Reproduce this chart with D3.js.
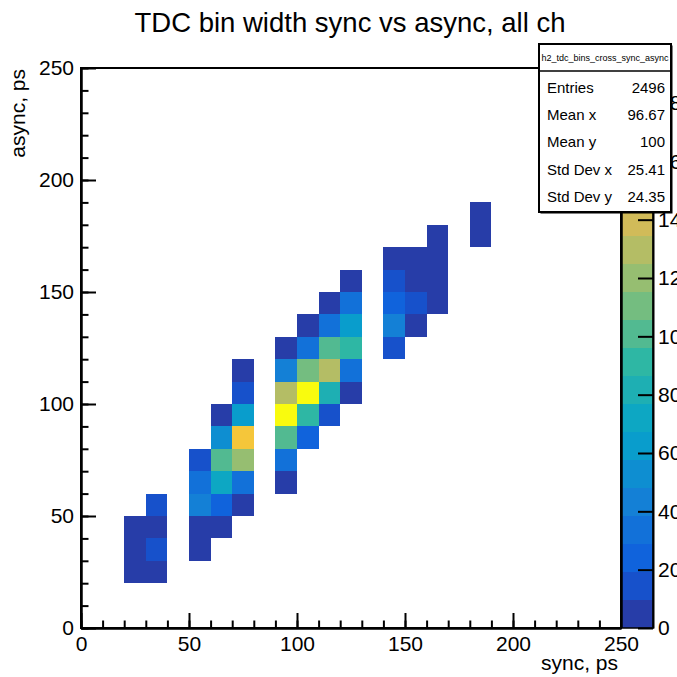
<!DOCTYPE html>
<html>
<head>
<meta charset="utf-8">
<script src="https://cdn.jsdelivr.net/npm/d3@7"></script>
<style>
  body { margin: 0; background: #fff; }
  svg { display: block; font-family: "Liberation Sans", Arial, Helvetica, sans-serif; }
</style>
</head>
<body>
<svg id="chart" width="677" height="677"></svg>
<script>
// 10 ps bins: lower edge of the sync bin, lower edge of the async bin, entries
const syncBins = [
  20, 20, 20,
  30, 30, 30, 30,
  50, 50, 50, 50, 50,
  60, 60, 60, 60, 60, 60,
  70, 70, 70, 70, 70, 70, 70,
  90, 90, 90, 90, 90, 90, 90,
  100, 100, 100, 100, 100, 100,
  110, 110, 110, 110, 110, 110,
  120, 120, 120, 120, 120, 120,
  140, 140, 140, 140, 140,
  150, 150, 150, 150,
  160, 160, 160, 160,
  180, 180
];
const asyncBins = [
  20, 30, 40,
  20, 30, 40, 50,
  30, 40, 50, 60, 70,
  40, 50, 60, 70, 80, 90,
  50, 60, 70, 80, 90, 100, 110,
  60, 70, 80, 90, 100, 110, 120,
  80, 90, 100, 110, 120, 130,
  90, 100, 110, 120, 130, 140,
  100, 110, 120, 130, 140, 150,
  120, 130, 140, 150, 160,
  130, 140, 150, 160,
  140, 150, 160, 170,
  170, 180
];
const counts = [
  6, 5, 4,
  7, 12, 8, 14,
  3, 7, 44, 35, 15,
  6, 24, 72, 98, 53, 5,
  9, 33, 122, 156, 62, 13, 4,
  5, 35, 97, 188, 127, 42, 7,
  22, 90, 192, 106, 31, 6,
  12, 78, 130, 98, 30, 4,
  8, 32, 88, 61, 34, 3,
  14, 42, 23, 12, 6,
  5, 13, 8, 7,
  6, 4, 5, 3,
  2, 3
];

const xTicks = [0, 50, 100, 150, 200, 250];
const yTicks = [0, 50, 100, 150, 200, 250];
const statLabels = ["Entries", "Mean x", "Mean y", "Std Dev x", "Std Dev y"];
const statValues = ["2496", "96.67", "100", "25.41", "24.35"];

// ROOT kBird palette
const birdStops = [0, 0.125, 0.25, 0.375, 0.5, 0.625, 0.75, 0.875, 1];
const birdR = [0.2082, 0.0592, 0.0780, 0.0232, 0.1802, 0.5301, 0.8186, 0.9956, 0.9764];
const birdG = [0.1664, 0.3599, 0.5041, 0.6419, 0.7178, 0.7492, 0.7328, 0.7862, 0.9832];
const birdB = [0.5293, 0.8684, 0.8385, 0.7914, 0.6425, 0.4662, 0.3499, 0.1968, 0.0539];

const binW = 10;
const nLevels = 20;
const nColors = 255;

const svg = d3.select("#chart");

const x = d3.scaleLinear().domain([0, 250]).range([81, 621]);
const y = d3.scaleLinear().domain([0, 250]).range([628, 68]);
const zMax = d3.max(counts);
const z = d3.scaleLinear().domain([0, zMax]).range([628, 68]);

const bird = d3.scaleLinear()
  .domain(birdStops)
  .range(birdStops.map((s, i) => d3.rgb(birdR[i] * 255, birdG[i] * 255, birdB[i] * 255)))
  .interpolate(d3.interpolateRgb);

// colour of contour level like THistPainter does it
const levelColor = lv => bird(Math.floor((lv + 0.99) * nColors / nLevels) / (nColors - 1));
const levelOf = v => Math.min(nLevels - 1, Math.floor(v / zMax * nLevels));

// cells
svg.append("g")
  .attr("shape-rendering", "crispEdges")
  .selectAll("rect")
  .data(d3.range(counts.length))
  .join("rect")
  .attr("x", i => x(syncBins[i]))
  .attr("width", i => x(syncBins[i] + binW) - x(syncBins[i]))
  .attr("y", i => y(asyncBins[i] + binW))
  .attr("height", i => y(asyncBins[i]) - y(asyncBins[i] + binW))
  .attr("fill", i => levelColor(levelOf(counts[i])));

const styleAxis = g => {
  g.attr("font-size", 21).attr("font-family", null);
  g.selectAll("line").attr("stroke-width", 2);
  g.select(".domain").attr("stroke-width", 2);
  g.selectAll("text").attr("fill", "#000");
};

// x axis
svg.append("g")
  .attr("transform", "translate(0,628)")
  .call(d3.axisBottom(x).tickValues(d3.range(0, 251, 10)).tickSize(-7.5).tickSizeOuter(0).tickFormat(""))
  .call(styleAxis);
svg.append("g")
  .attr("transform", "translate(0,628)")
  .call(d3.axisBottom(x).tickValues(xTicks).tickSize(-15).tickSizeOuter(0).tickPadding(8))
  .call(styleAxis);

// y axis
svg.append("g")
  .attr("transform", "translate(81,0)")
  .call(d3.axisLeft(y).tickValues(d3.range(0, 251, 10)).tickSize(-7.5).tickSizeOuter(0).tickFormat(""))
  .call(styleAxis);
svg.append("g")
  .attr("transform", "translate(81,0)")
  .call(d3.axisLeft(y).tickValues(yTicks).tickSize(-15).tickSizeOuter(0).tickPadding(7))
  .call(styleAxis);

// frame
svg.append("rect")
  .attr("x", x(0)).attr("y", y(250))
  .attr("width", x(250) - x(0)).attr("height", y(0) - y(250))
  .attr("fill", "none").attr("stroke", "#000").attr("stroke-width", 2);

// palette
const barX0 = 622, barX1 = 653;
svg.append("g")
  .attr("shape-rendering", "crispEdges")
  .selectAll("rect")
  .data(d3.range(nLevels))
  .join("rect")
  .attr("x", barX0)
  .attr("width", barX1 - barX0)
  .attr("y", lv => z((lv + 1) * zMax / nLevels))
  .attr("height", lv => z(lv * zMax / nLevels) - z((lv + 1) * zMax / nLevels))
  .attr("fill", lv => levelColor(lv));
svg.append("rect")
  .attr("x", barX0).attr("y", z(zMax))
  .attr("width", barX1 - barX0).attr("height", z(0) - z(zMax))
  .attr("fill", "none").attr("stroke", "#000").attr("stroke-width", 1.5);
svg.append("g")
  .attr("transform", `translate(${barX1},0)`)
  .call(d3.axisRight(z).tickValues(d3.range(0, zMax, 20)).tickSize(-15).tickSizeOuter(0).tickPadding(5))
  .call(styleAxis);

// titles
svg.append("text")
  .attr("x", 350).attr("y", 32)
  .attr("text-anchor", "middle")
  .attr("font-size", 27.5)
  .text("TDC bin width sync vs async, all ch");
svg.append("text")
  .attr("x", 618).attr("y", 670)
  .attr("text-anchor", "end")
  .attr("font-size", 21)
  .text("sync, ps");
svg.append("text")
  .attr("transform", "translate(25,69) rotate(-90)")
  .attr("text-anchor", "end")
  .attr("font-size", 21)
  .text("async, ps");

// stats box
const stats = svg.append("g");
stats.append("rect")
  .attr("x", 540.5).attr("y", 45.5).attr("width", 132).attr("height", 168)
  .attr("fill", "#000");
stats.append("rect")
  .attr("x", 539).attr("y", 44).attr("width", 132).attr("height", 168)
  .attr("fill", "#fff").attr("stroke", "#000").attr("stroke-width", 2);
stats.append("line")
  .attr("x1", 539).attr("x2", 671).attr("y1", 71).attr("y2", 71)
  .attr("stroke", "#000").attr("stroke-width", 1.5);
stats.append("text")
  .attr("x", 605).attr("y", 61)
  .attr("text-anchor", "middle")
  .attr("font-size", 9)
  .text("h2_tdc_bins_cross_sync_async");
statLabels.forEach((lab, i) => {
  const by = 92.5 + i * 27.4;
  stats.append("text").attr("x", 547).attr("y", by).attr("font-size", 15).text(lab);
  stats.append("text").attr("x", 665).attr("y", by).attr("font-size", 15)
    .attr("text-anchor", "end").text(statValues[i]);
});
</script>
</body>
</html>
